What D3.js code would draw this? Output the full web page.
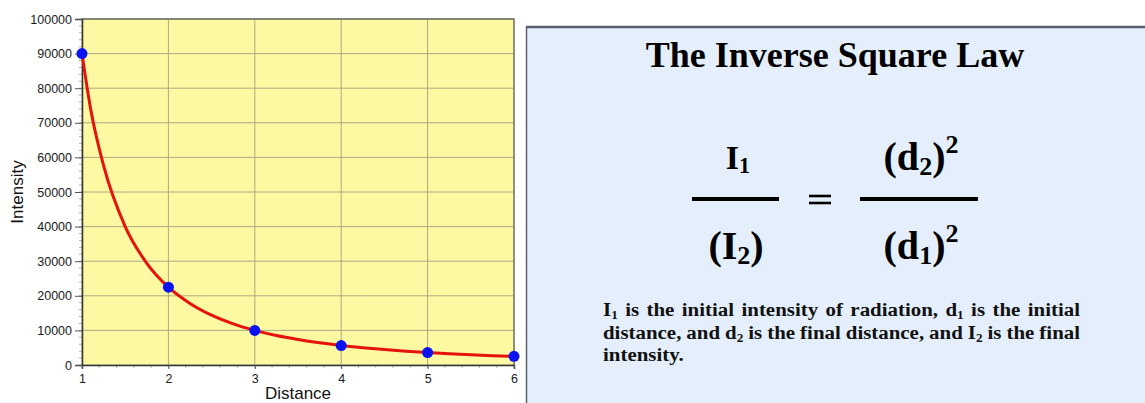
<!DOCTYPE html>
<html>
<head>
<meta charset="utf-8">
<script src="https://cdn.jsdelivr.net/npm/d3@7"></script>
<style>
  body { margin: 0; background: #fff; }
  svg { display: block; }
</style>
</head>
<body>
<div id="chart"></div>
<script>
// data
var distances = [1, 2, 3, 4, 5, 6];
var intensities = [90000, 22500, 10000, 5625, 3600, 2500];
// curve samples (distance, intensity)
var curveDist = [1, 1.1, 1.25, 1.5, 1.75, 2, 2.25, 2.5, 2.75, 3, 3.25, 3.5, 3.75, 4, 4.25, 4.5, 4.75, 5, 5.25, 5.5, 5.75, 6];
var curveInt = [90000, 74000, 57600, 40000, 29400, 22500, 17800, 14400, 11900, 10000, 8500, 7350, 6400, 5625, 5000, 4450, 4000, 3600, 3250, 2950, 2700, 2500];
var yTicks = [0, 10000, 20000, 30000, 40000, 50000, 60000, 70000, 80000, 90000, 100000];
var xTicks = [1, 2, 3, 4, 5, 6];

var W = 1145, H = 403;
var margin = {top: 19, left: 82},
    width = 514 - 82,
    height = 365 - 19;

var svg = d3.select('#chart').append('svg')
    .attr('width', W)
    .attr('height', H);
var g = svg.append('g')
    .attr('transform', 'translate(' + margin.left + ',' + margin.top + ')');

var x = d3.scaleLinear().domain([1, 6]).range([0, width]);
var y = d3.scaleLinear().domain([0, 100000]).range([height, 0]);

// plot background
g.append('rect')
    .attr('width', width)
    .attr('height', height)
    .style('fill', '#fdf9a2');

// grid
g.selectAll('.hgrid').data(yTicks).enter().append('line')
    .attr('x1', 0).attr('x2', width)
    .attr('y1', function(d) { return y(d); })
    .attr('y2', function(d) { return y(d); })
    .style('stroke', '#aca883').style('stroke-width', 1);
g.selectAll('.vgrid').data(xTicks).enter().append('line')
    .attr('y1', 0).attr('y2', height)
    .attr('x1', function(d) { return x(d); })
    .attr('x2', function(d) { return x(d); })
    .style('stroke', '#aca883').style('stroke-width', 1);

// frame top / right
g.append('path')
    .attr('d', 'M0,0H' + width + 'V' + height)
    .style('fill', 'none').style('stroke', '#6e6e62').style('stroke-width', 1.3);

// minor ticks
var yMinor = d3.range(0, 100001, 2000);
g.selectAll('.ymin').data(yMinor).enter().append('line')
    .attr('x1', -3).attr('x2', 0)
    .attr('y1', function(d) { return y(d); })
    .attr('y2', function(d) { return y(d); })
    .style('stroke', '#999').style('stroke-width', 0.8);
var xMinor = d3.range(1, 6.01, 0.2);
g.selectAll('.xmin').data(xMinor).enter().append('line')
    .attr('y1', height).attr('y2', height + 3)
    .attr('x1', function(d) { return x(d); })
    .attr('x2', function(d) { return x(d); })
    .style('stroke', '#aaa').style('stroke-width', 0.8);

// axes
var yAxis = g.append('g')
    .call(d3.axisLeft(y).tickValues(yTicks).tickSize(7).tickPadding(3).tickFormat(d3.format('d')));
var xAxis = g.append('g')
    .attr('transform', 'translate(0,' + height + ')')
    .call(d3.axisBottom(x).tickValues(xTicks).tickSize(4).tickPadding(5).tickFormat(d3.format('d')));
[yAxis, xAxis].forEach(function(a) {
    a.select('.domain').style('stroke', '#333').style('stroke-width', 1.5);
    a.selectAll('.tick line').style('stroke', '#555');
    a.selectAll('.tick text')
        .style('font-family', 'Liberation Sans, Arial, sans-serif')
        .style('font-size', '12.5px')
        .style('fill', '#1a1a1a');
});

// axis titles
svg.append('text')
    .text('Distance')
    .attr('x', margin.left + width / 2)
    .attr('y', 399)
    .attr('text-anchor', 'middle')
    .style('font-family', 'Liberation Sans, Arial, sans-serif')
    .style('font-size', '17px')
    .style('fill', '#111');
svg.append('text')
    .text('Intensity')
    .attr('text-anchor', 'middle')
    .attr('transform', 'translate(23,' + (margin.top + height / 2) + ')rotate(-90)')
    .style('font-family', 'Liberation Sans, Arial, sans-serif')
    .style('font-size', '17px')
    .style('fill', '#111');

// curve
var line = d3.line()
    .x(function(d) { return x(d[0]); })
    .y(function(d) { return y(d[1]); })
    .curve(d3.curveMonotoneX);
g.append('path')
    .datum(d3.zip(curveDist, curveInt))
    .attr('d', line)
    .style('fill', 'none')
    .style('stroke', '#e5130b')
    .style('stroke-width', 3);

// points
g.selectAll('.pt')
    .data(d3.zip(distances, intensities))
    .enter().append('circle')
    .attr('cx', function(d) { return x(d[0]); })
    .attr('cy', function(d) { return y(d[1]); })
    .attr('r', 5.5)
    .style('fill', '#0a12f2');

// ---- right panel ----
var serif = 'Liberation Serif, Times New Roman, serif';
svg.append('rect')
    .attr('x', 526).attr('y', 26)
    .attr('width', 700).attr('height', 420)
    .style('fill', '#e4effb');
svg.append('line')
    .attr('x1', 526).attr('x2', W).attr('y1', 27).attr('y2', 27)
    .style('stroke', '#5a6070').style('stroke-width', 2.5);
svg.append('line')
    .attr('x1', 526.5).attr('x2', 526.5).attr('y1', 26).attr('y2', H)
    .style('stroke', '#5a6070').style('stroke-width', 1.5);

svg.append('text')
    .text('The Inverse Square Law')
    .attr('x', 835).attr('y', 67)
    .attr('text-anchor', 'middle')
    .style('font-family', serif)
    .style('font-weight', 'bold')
    .style('font-size', '36px')
    .style('fill', '#000');

// formula: each piece is [text, role]
function formula(parts, cx, by, size) {
    var t = svg.append('text')
        .attr('x', cx).attr('y', by)
        .attr('text-anchor', 'middle')
        .style('font-family', serif)
        .style('font-weight', 'bold')
        .style('font-size', size + 'px')
        .style('fill', '#000');
    parts.forEach(function(p) {
        var s = t.append('tspan').text(p[0]);
        if (p[1] == 'sub') s.attr('dy', size * 0.12).style('font-size', (size * 0.65) + 'px');
        if (p[1] == 'back') s.attr('dy', -size * 0.12);
        if (p[1] == 'sup') s.attr('dy', -size * 0.42).style('font-size', (size * 0.65) + 'px');
    });
}
formula([['I'], ['1', 'sub']], 738, 169, 34);
formula([['('], ['I'], ['2', 'sub'], [')', 'back']], 736, 259, 40);
formula([['(d'], ['2', 'sub'], [')', 'back'], ['2', 'sup']], 921, 170, 40);
formula([['(d'], ['1', 'sub'], [')', 'back'], ['2', 'sup']], 921, 259, 40);

[[692, 779], [860, 978]].forEach(function(l) {
    svg.append('line')
        .attr('x1', l[0]).attr('x2', l[1]).attr('y1', 199).attr('y2', 199)
        .style('stroke', '#000').style('stroke-width', 4);
});
[196, 203].forEach(function(yy) {
    svg.append('line')
        .attr('x1', 809).attr('x2', 831).attr('y1', yy).attr('y2', yy)
        .style('stroke', '#000').style('stroke-width', 2.6);
});

// description, justified lines (text in the picture is a bit stretched)
var descLines = [
    [['I'], ['1', 'sub'], [' is the initial intensity of radiation, d'], ['1', 'sub'], [' is the initial']],
    [['distance, and d'], ['2', 'sub'], [' is the final distance, and I'], ['2', 'sub'], [' is the final']],
    [['intensity.']]
];
var descBase = [316, 339, 361];
var stretch = 1.1;
descLines.forEach(function(parts, i) {
    var t = svg.append('text')
        .attr('transform', 'translate(603,' + descBase[i] + ')scale(' + stretch + ',1)')
        .style('font-family', serif)
        .style('font-weight', 'bold')
        .style('font-size', '19px')
        .style('fill', '#111');
    parts.forEach(function(p) {
        var s = t.append('tspan').text(p[0]);
        if (p[1] == 'sub') {
            s.attr('dy', 3).style('font-size', '12px');
        } else if (s.node().previousSibling) {
            s.attr('dy', -3);
        }
    });
    if (i < 2) {
        var full = parts.map(function(p) { return p[0]; }).join('');
        var spaces = full.split(' ').length - 1;
        var w = t.node().getComputedTextLength();
        t.style('word-spacing', ((477 / stretch - w) / spaces) + 'px');
    }
});
</script>
</body>
</html>
